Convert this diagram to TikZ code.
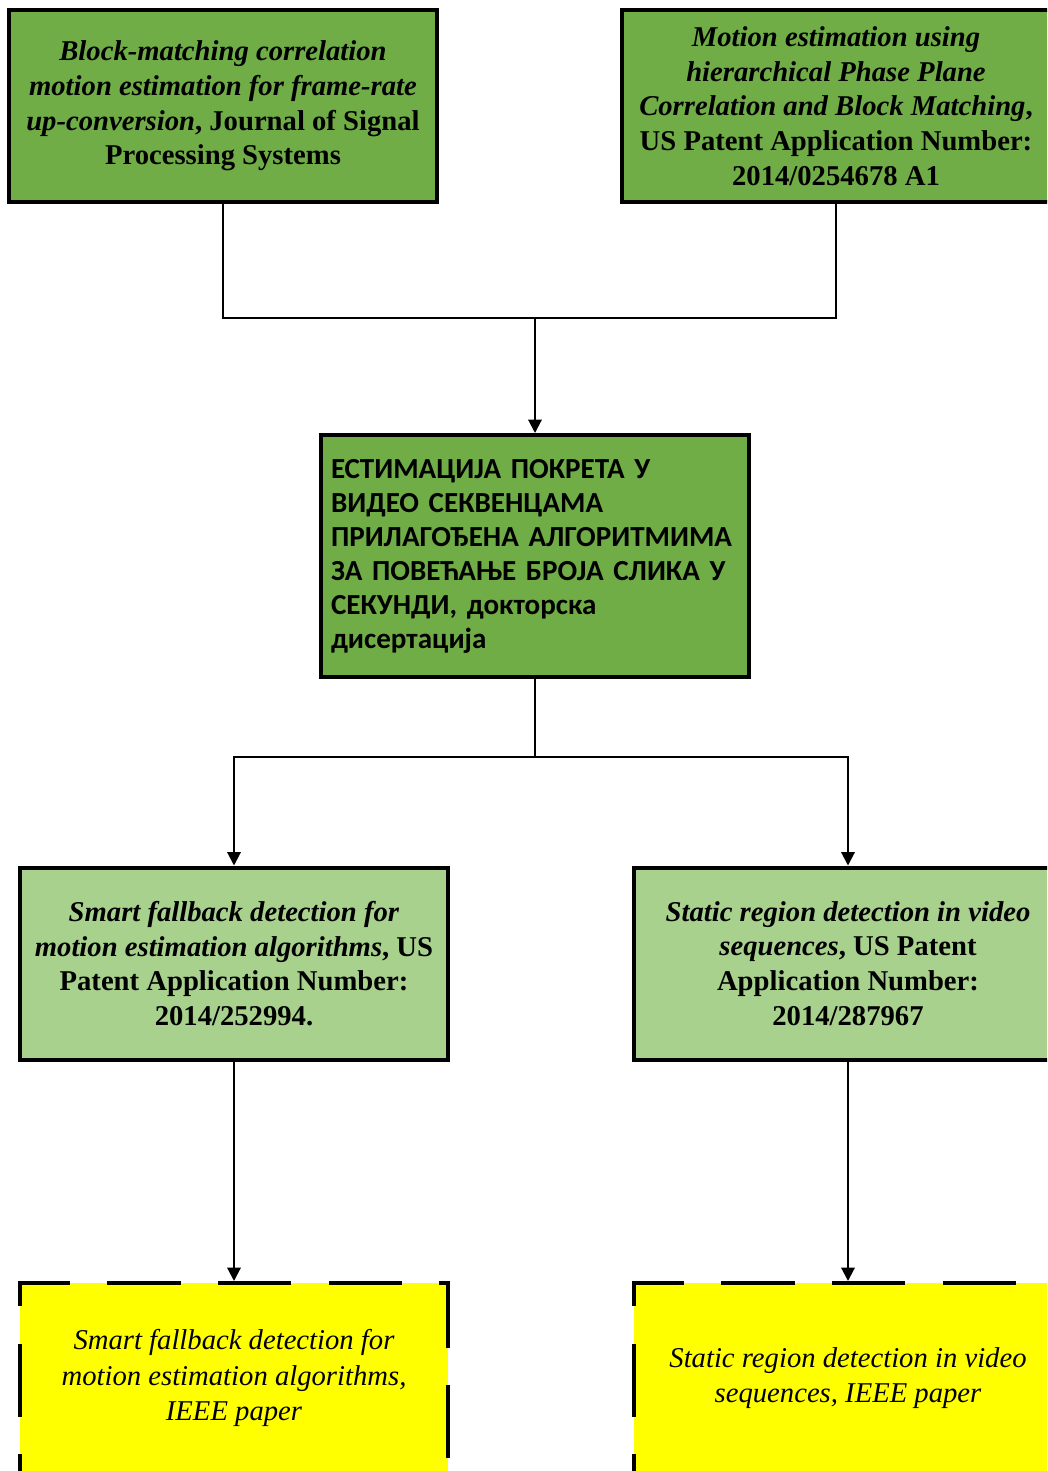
\documentclass[tikz,border=0pt]{standalone}
\usepackage{fontspec}
\setmainfont{Liberation Serif}
\newfontfamily\calib{Carlito}
\usetikzlibrary{arrows.meta}
\definecolor{gA}{HTML}{70AD47}
\definecolor{gB}{HTML}{A9D18E}
\definecolor{yel}{HTML}{FFFF00}
\begin{document}
\begin{tikzpicture}[x=0.75pt,y=-0.75pt,
  box/.style={draw=black, line width=3pt, inner sep=0pt, align=center,
    minimum width=321pt, minimum height=144pt,
    font=\fontsize{21.5}{26}\selectfont\bfseries},
  topbox/.style={box, fill=gA},
  midbox/.style={box, fill=gA, minimum height=181.5pt, align=left,
    text width=306pt, inner xsep=7.5pt,
    font=\calib\fontsize{21.8}{25.5}\selectfont\bfseries},
  patbox/.style={box, fill=gB},
  paperbox/.style={box, fill=yel, dash pattern=on 55pt off 28pt,
    minimum height=142.5pt, font=\fontsize{21.5}{26.5}\selectfont\itshape},
  conn/.style={draw=black, line width=1.5pt},
  arr/.style={conn, -{Triangle[width=10pt,length=10pt]}}]
\useasboundingbox (0,0) rectangle (1047,1471);
\clip (0,0) rectangle (1047,1471);
\fill[white] (0,0) rectangle (1047,1471);

\node[topbox] (A) at (223,106) {\textit{Block-matching correlation}\\\textit{motion estimation for frame-rate}\\\textit{up-conversion}, Journal of Signal\\Processing Systems};
\node[topbox] (B) at (836,106) {\textit{Motion estimation using}\\\textit{hierarchical Phase Plane}\\\textit{Correlation and Block Matching},\\US Patent Application Number:\\2014/0254678 A1};
\node[midbox] (C) at (535,556) {ЕСТИМАЦИЈА ПОКРЕТА У\\ВИДЕО СЕКВЕНЦАМА\\ПРИЛАГОЂЕНА АЛГОРИТМИМА\\ЗА ПОВЕЋАЊЕ БРОЈА СЛИКА У\\СЕКУНДИ, докторска\\дисертација};
\node[patbox] (D) at (234,963.5) {\textit{Smart fallback detection for}\\\textit{motion estimation algorithms}, US\\Patent Application Number:\\2014/252994.};
\node[patbox] (E) at (848,963.5) {\textit{Static region detection in video}\\\textit{sequences}, US Patent\\Application Number:\\2014/287967};
\node[paperbox] (F) at (234,1378) {Smart fallback detection for\\motion estimation algorithms,\\IEEE paper};
\node[paperbox] (G) at (848,1378) {Static region detection in video\\sequences, IEEE paper};

\coordinate (j1) at (535,318);
\coordinate (j2) at (535,757);
\draw[conn] (A.south) |- (j1);
\draw[conn] (B.south) |- (j1);
\draw[arr] (j1) -- (C.north);
\draw[conn] (C.south) -- (j2);
\draw[arr] (j2) -| (D.north);
\draw[arr] (j2) -| (E.north);
\draw[arr] (D.south) -- (F.north);
\draw[arr] (E.south) -- (G.north);
\end{tikzpicture}
\end{document}
